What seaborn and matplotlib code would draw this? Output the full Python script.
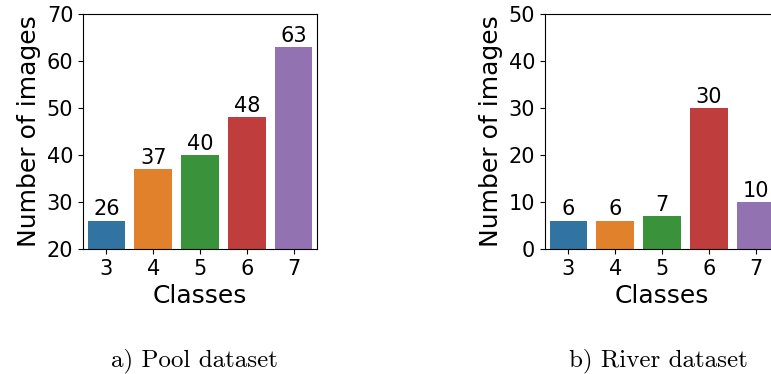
import pandas as pd
import seaborn as sns
import matplotlib.pyplot as plt

classes = ['3', '4', '5', '6', '7']
pool_counts = [26, 37, 40, 48, 63]
river_counts = [6, 6, 7, 30, 10]
captions = ['a) Pool dataset', 'b) River dataset']

pool = pd.DataFrame({'Classes': classes, 'count': pool_counts})
river = pd.DataFrame({'Classes': classes, 'count': river_counts})

fig = plt.figure(figsize=(7.71, 3.74), dpi=100)
ax1 = fig.add_axes([83 / 771, 1 - 249 / 374, 234 / 771, 235 / 374])
ax2 = fig.add_axes([545 / 771, 1 - 249 / 374, 234 / 771, 235 / 374])

for ax, df, ylim in [(ax1, pool, (20, 70)), (ax2, river, (0, 50))]:
    sns.barplot(data=df, x='Classes', y='count', hue='Classes', legend=False, ax=ax)
    ax.set_ylim(*ylim)
    ax.set_xlabel('Classes', fontsize=18)
    ax.set_ylabel('Number of images', fontsize=18)
    ax.tick_params(labelsize=15)
    for c in ax.containers:
        ax.bar_label(c, fontsize=15, padding=1)

fig.text(194.7 / 771, 1 - 366.7 / 374, captions[0], family='cmr10', fontsize=18,
         ha='center', va='baseline')
fig.text(658.5 / 771, 1 - 366.7 / 374, captions[1], family='cmr10', fontsize=18,
         ha='center', va='baseline')

plt.savefig('out.png', dpi=100)
